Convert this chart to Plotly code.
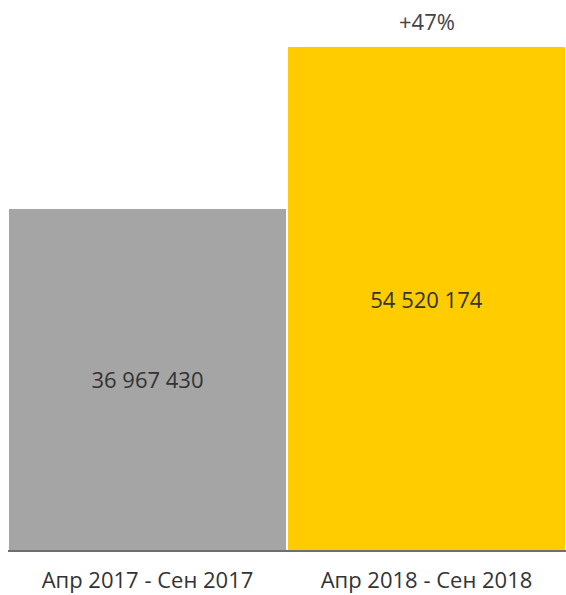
import plotly.graph_objects as go

categories = ["Апр 2017 - Сен 2017", "Апр 2018 - Сен 2018"]
values = [36967430, 54520174]
value_labels = ["36 967 430", "54 520 174"]
growth_label = "+47%"
colors = ["#a5a5a5", "#ffcc00"]

fig = go.Figure(
    go.Bar(
        x=categories,
        y=values,
        text=value_labels,
        textposition="inside",
        insidetextanchor="middle",
        textfont=dict(family="Open Sans", size=22, color="#333333"),
        marker=dict(color=colors, line=dict(width=0)),
        hoverinfo="skip",
    )
)

fig.add_annotation(
    x=categories[1], y=1, xref="x", yref="paper",
    text=growth_label, showarrow=False, yanchor="bottom", yshift=9,
    font=dict(family="Open Sans", size=22, color="#444444"),
)

fig.update_layout(
    width=566, height=595,
    margin=dict(l=8, r=0, t=47, b=45, autoexpand=False),
    paper_bgcolor="white", plot_bgcolor="white",
    bargap=0.007,
    showlegend=False,
    xaxis=dict(
        showline=True, linecolor="#6e6e6e", linewidth=2,
        ticks="outside", ticklen=10, tickcolor="rgba(0,0,0,0)",
        tickfont=dict(family="Open Sans", size=22, color="#333333"),
        showgrid=False, zeroline=False, automargin=False,
    ),
    yaxis=dict(
        range=[0, values[1]], visible=False, showgrid=False, zeroline=False,
    ),
)

fig.write_html(
    "out.html",
    config={"displayModeBar": False},
    post_script="document.documentElement.style.overflow='hidden';document.body.style.margin='0';document.body.style.overflow='hidden';",
)
